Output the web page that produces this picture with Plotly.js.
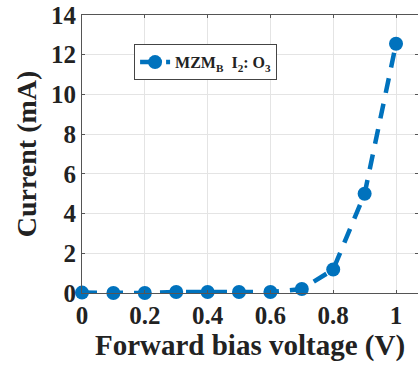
<!DOCTYPE html>
<html><head><meta charset="utf-8">
<script src="https://cdn.plot.ly/plotly-3.0.1.min.js"></script>
<style>html,body{margin:0;padding:0;background:#fff}#c{width:418px;height:372px}</style>
</head><body><div id="c"></div>
<script>
const voltage = [0, 0.1, 0.2, 0.3, 0.4, 0.5, 0.6, 0.7, 0.8, 0.9, 1.0];
const current = [0.02, 0.0, 0.0, 0.05, 0.05, 0.05, 0.05, 0.2, 1.18, 5.0, 12.55];
const xTicks = [0, 0.2, 0.4, 0.6, 0.8, 1];
const yTicks = [0, 2, 4, 6, 8, 10, 12, 14];
const seriesName = 'MZM<sub>B</sub>  I<sub>2</sub>: O<sub>3</sub>';

const font = 'Liberation Serif, Times New Roman, serif';
Plotly.newPlot('c', [{
  x: voltage, y: current, type: 'scatter', mode: 'lines+markers',
  name: seriesName, cliponaxis: false,
  line: {color: '#0072BD', width: 4.5, dash: '15px,11px'},
  marker: {color: '#0072BD', size: 14}
}], {
  width: 418, height: 372,
  margin: {l: 82, r: 0, t: 15, b: 79},
  paper_bgcolor: '#fff', plot_bgcolor: '#fff',
  showlegend: true,
  legend: {x: 0.155, y: 0.895, xanchor: 'left', yanchor: 'top',
    bordercolor: '#444', borderwidth: 1, bgcolor: '#fff',
    font: {family: font, size: 16, color: '#222', weight: 'bold'}},
  xaxis: {range: [0, 1.07], tickvals: xTicks, ticktext: xTicks.map(String),
    showgrid: true, gridcolor: '#e4e4e4', zeroline: false,
    showline: true, linecolor: '#555', linewidth: 1, mirror: 'ticks',
    ticks: 'inside', ticklen: 3, tickcolor: '#555',
    tickfont: {family: font, size: 25, color: '#222', weight: 'bold'},
    title: {text: 'Forward bias voltage (V)', standoff: 4,
      font: {family: font, size: 29, color: '#222', weight: 'bold'}}},
  yaxis: {range: [0, 14], tickvals: yTicks,
    showgrid: true, gridcolor: '#e4e4e4', zeroline: false,
    showline: true, linecolor: '#555', linewidth: 1, mirror: 'ticks',
    ticks: 'inside', ticklen: 3, tickcolor: '#555',
    tickfont: {family: font, size: 25, color: '#222', weight: 'bold'},
    title: {text: 'Current (mA)', standoff: 6,
      font: {family: font, size: 28, color: '#222', weight: 'bold'}}}
}, {displayModeBar: false, staticPlot: true});
</script></body></html>
